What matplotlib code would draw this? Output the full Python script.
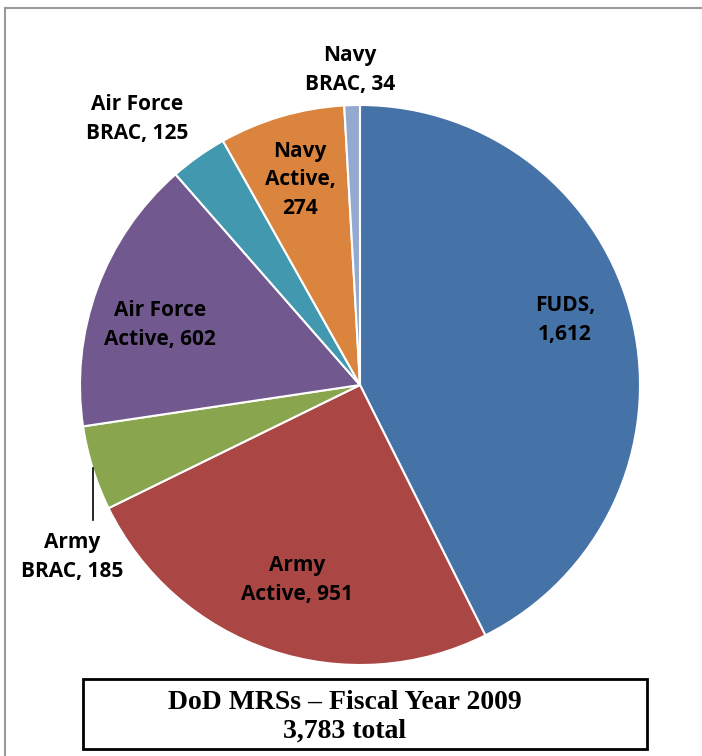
import matplotlib.pyplot as plt
from matplotlib.patches import Rectangle

# MRS counts by component, FY2009
categories = ['FUDS', 'Army Active', 'Army BRAC', 'Air Force Active',
              'Air Force BRAC', 'Navy Active', 'Navy BRAC']
counts = [1612, 951, 185, 602, 125, 274, 34]
colors = ['#4572A7', '#AA4643', '#89A54E', '#71588F', '#4198AF', '#DB843D', '#93A9CF']
label_text = ['FUDS,\n1,612', 'Army\nActive, 951', 'Army\nBRAC, 185', 'Air Force\nActive, 602',
              'Air Force\nBRAC, 125', 'Navy\nActive,\n274', 'Navy\nBRAC, 34']

W, H = 702, 756
fig = plt.figure(figsize=(W / 100, H / 100), dpi=100)
ax = fig.add_axes([0, 0, 1, 1])

# pie in pixel coords (y flipped from image)
cx, cy, r = 360, H - 385, 280
ax.pie(counts, colors=colors, startangle=90, counterclock=False,
       center=(cx, cy), radius=r,
       wedgeprops=dict(edgecolor='white', linewidth=1.5))
ax.set_xlim(0, W)
ax.set_ylim(0, H)
ax.set_aspect('equal')
ax.axis('off')

# label positions (image coords)
pos = {'FUDS': (565, 320), 'Army Active': (297, 580), 'Army BRAC': (72, 557),
       'Air Force Active': (160, 325), 'Air Force BRAC': (137, 119),
       'Navy Active': (300, 180), 'Navy BRAC': (350, 70)}
for cat, txt in zip(categories, label_text):
    x, y = pos[cat]
    ax.text(x, H - y, txt, ha='center', va='center', fontsize=15,
            fontweight='bold', family='Open Sans', linespacing=1.5, color='black')

# leader line for Army BRAC
ax.plot([93, 93], [H - 468, H - 520], color='black', lw=1.2)

# outer frame (top and left edges only are visible)
ax.plot([5, W], [H - 8, H - 8], color='#9a9a9a', lw=1.5, clip_on=False)
ax.plot([5, 5], [H - 8, 0], color='#9a9a9a', lw=1.5, clip_on=False)

# title box
ax.add_patch(Rectangle((83, H - 749), 647 - 83, 70, fill=False,
                       edgecolor='black', lw=2))
ax.text(345, H - 717, 'DoD MRSs \u2013 Fiscal Year 2009\n3,783 total',
        ha='center', va='center', fontsize=20, fontweight='bold',
        family='Liberation Serif', linespacing=1.2)

fig.savefig('out.png', dpi=100)
